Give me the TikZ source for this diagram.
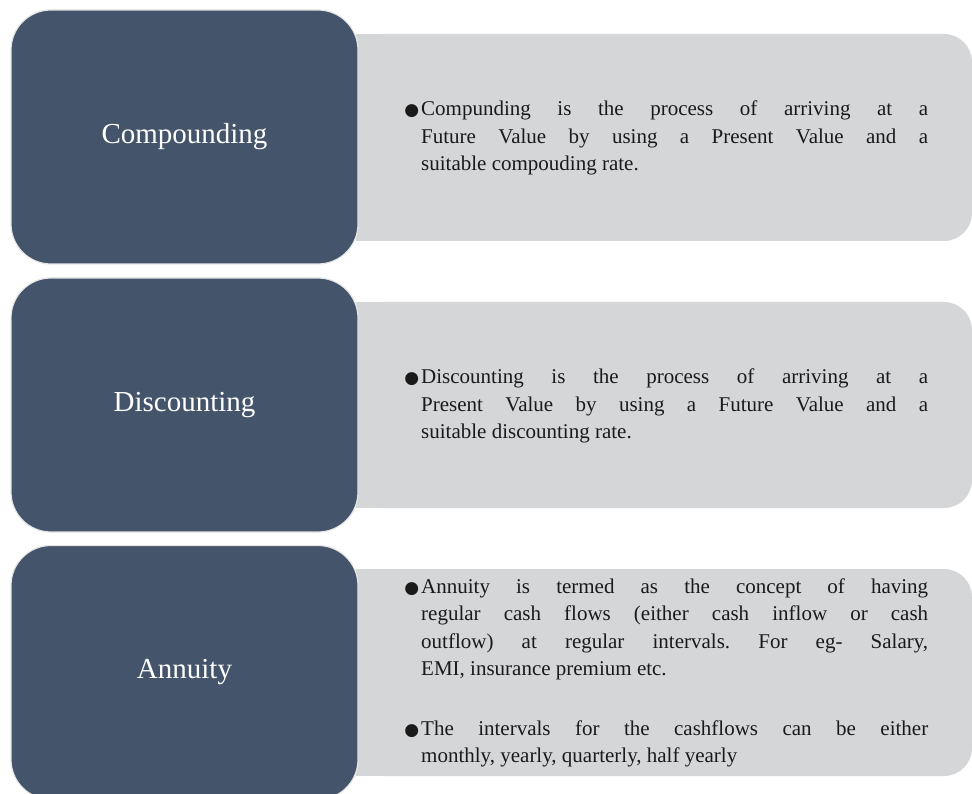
\documentclass[tikz,border=0pt]{standalone}
\usepackage{fontspec}
\setmainfont{Liberation Serif}
\newfontfamily\symfont{DejaVu Sans}
\definecolor{darkslate}{HTML}{44546A}
\definecolor{panelgray}{HTML}{D5D6D8}
\definecolor{bodytext}{HTML}{1A1A1A}
\hbadness=10000
\frenchspacing
\begin{document}
\begin{tikzpicture}[x=1pt,y=-1pt,
  darkbox/.style={fill=darkslate, draw=black!10, line width=1.2pt, rounded corners=40pt,
    minimum width=347pt, minimum height=254pt, inner sep=0pt, text=white,
    font=\fontsize{29}{34}\selectfont},
  graypanel/.style={fill=panelgray},
  bodybox/.style={text width=507pt, align=justify, inner sep=0pt, anchor=west, text=bodytext,
    font=\fontsize{21}{27.5}\selectfont}
]
\useasboundingbox (0,0) rectangle (972,794);
\clip (0,0) rectangle (972,794);
\newcommand{\bul}{\leavevmode\llap{{\symfont\fontsize{17}{20}\selectfont ●}\hspace{2pt}}}
% gray panels
\foreach \t/\b in {34/241, 302/508, 569/776}{
  \fill[graypanel, rounded corners=28pt] (356,\t) rectangle (972,\b);
  \fill[graypanel] (356,\t) rectangle (700,\b);
}
% dark boxes
\node[darkbox] (c1) at (184.5,137) {Compounding};
\node[darkbox] (c2) at (184.5,405) {Discounting};
\node[darkbox] (c3) at (184.5,672.5) {Annuity};
% body texts
\node[bodybox] (t1) at (421,138) {\bul Compunding is the process of arriving at a\linebreak Future Value by using a Present Value and a\linebreak suitable compouding rate.};
\node[bodybox] (t2) at (421,406) {\bul Discounting is the process of arriving at a\linebreak Present Value by using a Future Value and a\linebreak suitable discounting rate.};
\node[bodybox] (t3) at (421,673) {\bul Annuity is termed as the concept of having\linebreak regular cash flows (either cash inflow or cash\linebreak outflow) at regular intervals. For eg- Salary,\linebreak EMI, insurance premium etc.\par\vspace{32pt}\bul The intervals for the cashflows can be either\linebreak monthly, yearly, quarterly, half yearly};
\end{tikzpicture}
\end{document}
